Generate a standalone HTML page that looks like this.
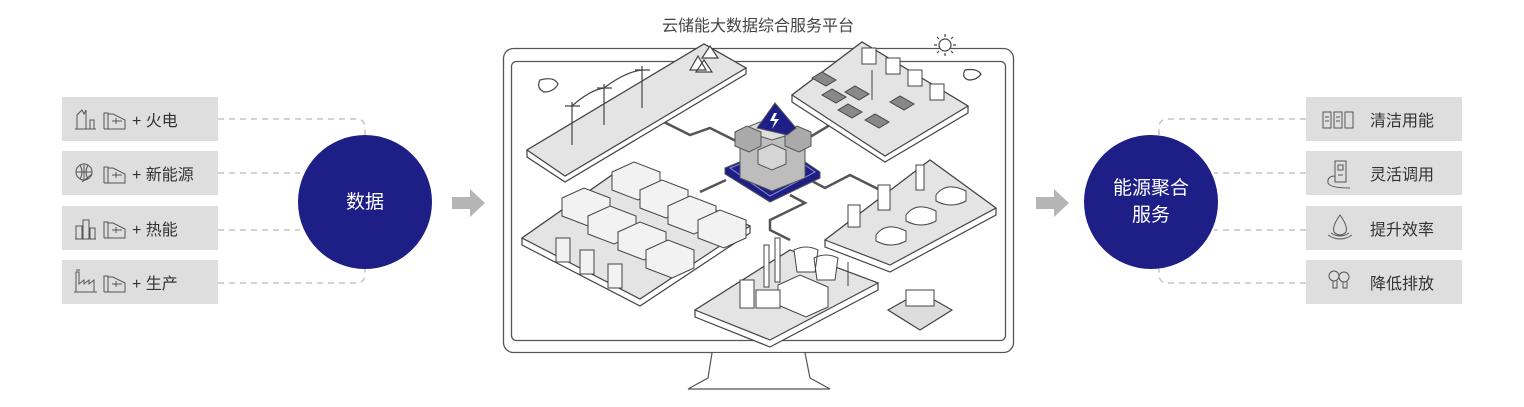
<!DOCTYPE html>
<html><head><meta charset="utf-8">
<style>
html,body{margin:0;padding:0;background:#fff;width:1524px;height:407px;overflow:hidden}
body{font-family:"Liberation Sans","Noto Sans CJK SC",sans-serif;position:relative}
.box{position:absolute;width:156px;height:44px;background:#dedede;color:#333;font-size:16px;line-height:50px}
.circ{position:absolute;width:134px;height:134px;border-radius:50%;background:#1e1f86;color:#fff;display:flex;align-items:center;justify-content:center;text-align:center;font-size:19px;line-height:27px;z-index:2}
</style></head><body>
<div class="box" style="left:62px;top:97px"><span style="margin-left:70px">+ 火电</span></div>
<div class="box" style="left:62px;top:151px"><span style="margin-left:70px">+ 新能源</span></div>
<div class="box" style="left:62px;top:206px"><span style="margin-left:70px">+ 热能</span></div>
<div class="box" style="left:62px;top:260px"><span style="margin-left:70px">+ 生产</span></div>
<div class="box" style="left:1306px;top:97px"><span style="margin-left:64px">清洁用能</span></div>
<div class="box" style="left:1306px;top:151px"><span style="margin-left:64px">灵活调用</span></div>
<div class="box" style="left:1306px;top:206px"><span style="margin-left:64px">提升效率</span></div>
<div class="box" style="left:1306px;top:260px"><span style="margin-left:64px">降低排放</span></div>
<svg width="1524" height="407" style="position:absolute;left:0;top:0" xmlns="http://www.w3.org/2000/svg">
<g fill="none" stroke="#c4c4c4" stroke-width="1.5" stroke-dasharray="6,5">
<path d="M218 119 H356 Q365 119 365 128 V135"/>
<path d="M218 173 H300"/>
<path d="M218 230 H300"/>
<path d="M218 283 H356 Q365 283 365 274 V269"/>
<path d="M1306 119 H1168 Q1159 119 1159 128 V135"/>
<path d="M1306 173 H1214"/>
<path d="M1306 230 H1214"/>
<path d="M1306 283 H1168 Q1159 283 1159 274 V269"/>
</g>
<g fill="none" stroke="#555" stroke-width="1">
<path d="M75 129 H96 M77 129 V115 L82 110 L84 114 L86 110 V129 M90 129 V120 H94 V129"/>
<circle cx="84" cy="172" r="8"/><path d="M76 172 H92 M84 164 V180 M80 165 Q84 172 80 179 M88 165 Q84 172 88 179 M82 182 L92 174"/>
<path d="M75 239 H96 M76 239 V226 H82 V239 M83 239 V220 H89 V239 M90 239 V228 H95 V239"/>
<path d="M74 292 H97 M76 292 V272 H79 V284 L84 280 V284 L89 280 V284 L94 280 V292 M76 270 H80"/>
<g id="bat"><path d="M104 129 V113 H108 V129 M108 114 H113 L125 120 V129 H104 M112 121 H122 M116 118 V124"/></g>
<use href="#bat" y="54"/><use href="#bat" y="109"/><use href="#bat" y="163"/>
<path d="M1323 128 V112 H1331 V128 Z M1334 128 V112 H1342 V128 Z M1345 128 V112 H1353 V128 Z M1325 117 H1329 M1325 121 H1329 M1336 117 H1340 M1336 121 H1340"/>
<path d="M1335 161 H1346 V182 H1335 Z M1338 165 H1343 V170 H1338 Z M1338 175 H1343 M1335 176 Q1327 176 1328 183 Q1330 188 1350 188"/>
<path d="M1340 215 Q1332 226 1334 232 Q1340 238 1346 232 Q1348 226 1340 215 Z M1328 235 Q1340 243 1352 235 M1331 233 Q1340 239 1349 233"/>
<circle cx="1334" cy="276" r="5"/><circle cx="1344" cy="277" r="5"/><path d="M1333 281 V288 H1337 V281 M1343 282 V288 H1347 V282"/>
</g>
<g fill="#b5b5b5">
<path d="M452 197 H470 V189 L485 203 L470 217 V209 H452 Z"/>
<path d="M1036 197 H1054 V189 L1069 203 L1054 217 V209 H1036 Z"/>
</g>
<text x="758" y="31" font-size="16" fill="#444" text-anchor="middle" font-family="Liberation Sans,Noto Sans CJK SC,sans-serif">云储能大数据综合服务平台</text>
<rect x="503.5" y="48.5" width="510" height="304" rx="10" fill="#fff" stroke="#555" stroke-width="1.3"/>
<rect x="511.5" y="61.5" width="494" height="279" rx="5" fill="#fff" stroke="#555" stroke-width="1.3"/>
<path d="M712 353 L708 378 L688 389 H830 L810 378 L805 353" fill="#fff" stroke="#555" stroke-width="1.2"/>
<g fill="none" stroke="#555" stroke-width="2.5">
<path d="M660 120 L690 135 L710 128 L740 143"/>
<path d="M805 140 L830 125 L820 118"/>
<path d="M726 180 L700 192"/>
<path d="M810 180 L825 188 L850 175 L880 190"/>
<path d="M790 195 L805 203 L770 220 L770 230 L790 240"/>
</g>
<g stroke="#444" stroke-width="1.2" fill="#e4e4e4">
<path d="M527 150 L704 44 L746 68 L746 74 L565 182 L527 157 Z" fill="#fff"/>
<path d="M527 150 L704 44 L746 68 L565 176 Z"/>
<path d="M792 95 L862 42 L968 106 L968 113 L885 162 L792 102 Z" fill="#fff"/>
<path d="M792 95 L862 42 L968 106 L885 156 Z"/>
<path d="M522 238 L622 168 L750 226 L750 233 L640 306 L522 245 Z" fill="#fff"/>
<path d="M522 238 L622 168 L750 226 L640 299 Z"/>
<path d="M825 240 L930 160 L996 208 L996 215 L890 272 L825 247 Z" fill="#fff"/>
<path d="M825 240 L930 160 L996 208 L890 265 Z"/>
<path d="M695 310 L790 250 L878 283 L878 290 L770 347 L695 317 Z" fill="#fff"/>
<path d="M695 310 L790 250 L878 283 L770 340 Z"/>
<path d="M888 310 L920 292 L952 310 L920 330 Z" fill="#ddd"/>
</g>
<g stroke="#444" stroke-width="1.2" fill="none">
<path d="M572 102 V145 M604 84 V125 M642 66 V108"/>
<path d="M565 106 H580 M597 88 H612 M635 70 H650"/>
<path d="M572 106 Q590 90 604 88 Q625 72 642 70"/>
<path d="M540 80 q-4 8 4 12 q10 0 14 -8 q-4 -8 -18 -4 z" fill="#fff"/>
<path d="M690 70 l8 -14 l8 14 z M702 58 l8 -12 l8 12z M696 72 l8 -12 l8 12z" fill="#fff"/>
<path d="M965 70 q-4 8 4 10 q8 0 12 -6 q-4 -6 -16 -4z" fill="#fff"/>
<circle cx="945" cy="45" r="6" fill="#fff"/>
<path d="M945 34 V37 M945 53 V56 M934 45 H937 M953 45 H956 M937 37 L939 39 M951 51 L953 53 M953 37 L951 39 M937 53 L939 51"/>
</g>
<g stroke="#444" stroke-width="1" fill="#fff">
<path d="M862 48 h14 v16 h-14z M886 58 h14 v16 h-14z M908 70 h14 v16 h-14z M930 84 h14 v16 h-14z"/>
<path d="M812 78 l10 -6 l14 8 l-10 6z M822 95 l10 -6 l14 8 l-10 6z M838 110 l10 -6 l14 8 l-10 6z M865 120 l10 -6 l14 8 l-10 6z M890 102 l10 -6 l14 8 l-10 6z M845 92 l10 -6 l14 8 l-10 6z" fill="#888"/>
<path d="M872 70 V100"/>
</g>
<g stroke="#444" stroke-width="1" fill="#f2f2f2">
<path d="M562 198 l22 -10 l26 10 v18 l-22 10 l-26 -10z"/>
<path d="M612 172 l22 -10 l26 10 v18 l-22 10 l-26 -10z"/>
<path d="M588 216 l22 -10 l26 10 v18 l-22 10 l-26 -10z"/>
<path d="M640 190 l22 -10 l26 10 v18 l-22 10 l-26 -10z"/>
<path d="M618 232 l22 -10 l26 10 v18 l-22 10 l-26 -10z"/>
<path d="M668 206 l22 -10 l26 10 v18 l-22 10 l-26 -10z"/>
<path d="M646 250 l22 -10 l26 10 v18 l-22 10 l-26 -10z"/>
<path d="M698 220 l22 -10 l26 10 v18 l-22 10 l-26 -10z"/>
<path d="M556 238 h14 v24 h-14z M580 250 h14 v24 h-14z M608 264 h14 v24 h-14z"/>
</g>
<g stroke="#444" stroke-width="1" fill="#fff">
<path d="M878 185 h12 v25 h-12z M916 165 h8 v25 h-8z M848 205 h12 v22 h-12z"/>
<path d="M876 235 q10 -14 30 -4 v10 q-15 8 -30 0z M906 215 q10 -14 30 -4 v10 q-15 8 -30 0z M936 195 q10 -14 30 -4 v10 q-15 8 -30 0z"/>
<path d="M906 290 h28 v16 h-28z"/>
</g>
<g stroke="#444" stroke-width="1" fill="#fff">
<path d="M764 245 h5 v42 h-5z M775 238 h5 v44 h-5z"/>
<path d="M794 250 q12 -6 24 0 l-3 22 h-18z M814 258 q12 -6 24 0 l-3 22 h-18z"/>
<path d="M778 285 l22 -10 l28 12 v20 l-22 10 l-28 -12z"/>
<path d="M740 280 h14 v28 h-14z M756 290 h24 v18 h-24z"/>
<path d="M848 262 v24"/>
</g>
<g stroke="#555" stroke-width="1">
<path d="M725 168 L780 145 L820 172 L820 178 L770 202 L725 174 Z" fill="#1e1f86"/>
<path d="M730 168 L780 148 L815 172 L770 196 Z" fill="none" stroke="#8a8ad0"/>
<path d="M740 130 V178 L772 191 L805 178 V130 Z" fill="#bdbdbd"/>
<path d="M740 130 L760 122 L805 130 L772 140 Z" fill="#ddd"/>
<path d="M735 132 l12 -6 l14 6 v14 l-12 6 l-14 -6z" fill="#aaa"/>
<path d="M785 132 l12 -6 l14 6 v14 l-12 6 l-14 -6z" fill="#aaa"/>
<path d="M758 150 l14 -6 l14 6 v14 l-14 6 l-14 -6z" fill="#d5d5d5"/>
<path d="M757 128 L775 103 L796 128 L787 135 Z" fill="#1e1f86"/>
<path d="M774 113 l-4 8 h5 l-3 8 l7 -10 h-5 l3 -6z" fill="#fff" stroke="none"/>
</g>
</svg>
<div class="circ" style="left:298px;top:135px">数据</div>
<div class="circ" style="left:1084px;top:135px">能源聚合<br>服务</div>
</body></html>
